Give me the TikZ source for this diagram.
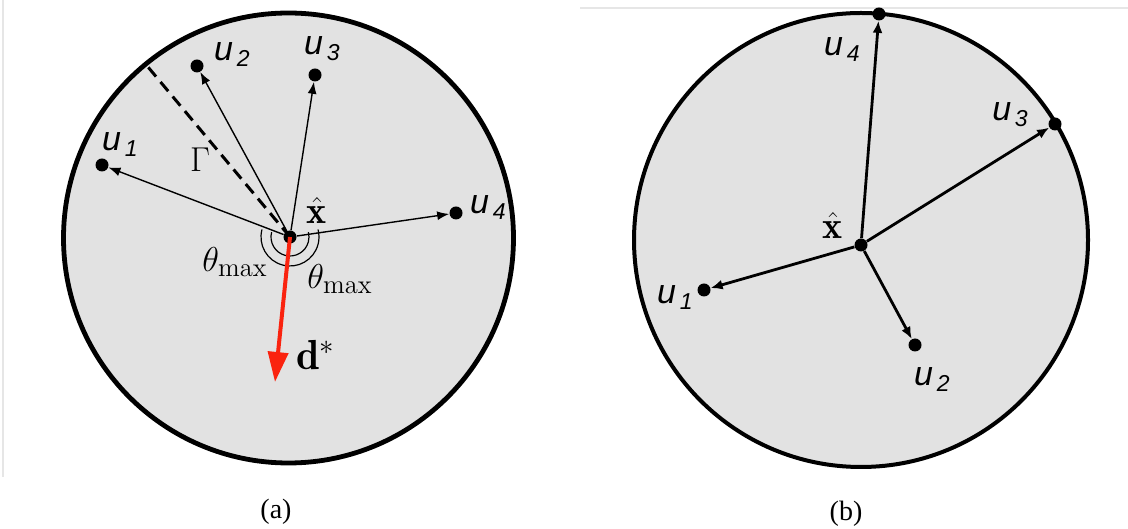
\documentclass[tikz,border=0pt]{standalone}
\usepackage{fontspec}
\setsansfont{Liberation Sans}
\newfontfamily\capfont{Liberation Serif}
\usepackage{amsmath}
\usepackage{tikz}
\usetikzlibrary{arrows.meta}
\definecolor{myred}{RGB}{250,35,15}
\definecolor{myfill}{RGB}{226,226,226}
\definecolor{myframe}{RGB}{230,230,230}
\newcommand{\ulab}[1]{u\raisebox{-3pt}{\fontsize{11.5}{12}\selectfont\,#1}}
\tikzset{
  disc/.style={draw=black, fill=myfill},
  ball/.style={circle, fill=black, inner sep=0pt, minimum size=6.5pt},
  thinarrow/.style={-{Latex[length=6pt,width=4.5pt]}, line width=0.7pt},
  thickarrow/.style={-{Latex[length=6pt,width=5pt]}, line width=1.4pt},
  redarrow/.style={-{Triangle[length=15pt,width=10pt]}, line width=2pt, color=myred},
  gammaline/.style={line width=1.5pt, dash pattern=on 6pt off 3.5pt},
  anglearc/.style={line width=0.6pt},
  ulabel/.style={font=\fontsize{17}{19}\selectfont\sffamily\itshape, inner sep=0pt},
  mlabel/.style={font=\fontsize{19}{21}\selectfont, inner sep=0pt},
  caption/.style={font=\fontsize{14}{16}\selectfont\capfont, inner sep=0pt}
}

\begin{document}
\begin{tikzpicture}[x=0.5pt, y=0.5pt]
  \useasboundingbox (0,0) rectangle (1128,529);
  \draw[myframe, line width=0.6pt] (3,52) -- (3,529);
  \draw[myframe, line width=0.6pt] (580,521) -- (1128,521);

  % (a)
  \draw[disc, line width=2.4pt] (288.5,291) circle[radius=112.5pt];
  \node[ball] (xa) at (290,292) {};
  \foreach \n/\p in {1/{102,364}, 2/{197,463}, 3/{315,454}, 4/{456,316}} {
    \node[ball] (a\n) at (\p) {};
    \draw[thinarrow] (xa) -- (a\n);
  }
  \coordinate (gend) at (148,462);
  \coordinate (dend) at (275,147);
  \draw[gammaline] (xa.center) -- (gend);
  \draw[anglearc] (xa.center) ++(165:9.5pt) arc[start angle=165, end angle=375, radius=9.5pt];
  \draw[anglearc] (xa.center) ++(165:14.5pt) arc[start angle=165, end angle=375, radius=14.5pt];
  \draw[redarrow] (xa.center) -- (dend);
  \node[ulabel] (la1) at (120,384) {\ulab{1}};
  \node[ulabel] (la2) at (232,474) {\ulab{2}};
  \node[ulabel] (la3) at (322,480) {\ulab{3}};
  \node[ulabel] (la4) at (488,321) {\ulab{4}};
  \node[mlabel] (gam) at (200,369) {$\Gamma$};
  \node[mlabel] (xhata) at (317,318) {$\hat{\mathbf{x}}$};
  \node[mlabel] (thl) at (235,267) {$\theta_{\max}$};
  \node[mlabel] (thr) at (340,250) {$\theta_{\max}$};
  \node[mlabel, font=\fontsize{21}{23}\selectfont] (dstar) at (316,174) {$\mathbf{d}^{*}$};
  \node[caption] (capa) at (276,17) {(a)};

  % (b)
  \draw[disc, line width=2pt] (861,289) circle[radius=113.5pt];
  \node[ball] (xb) at (861,284) {};
  \foreach \n/\p in {1/{704,239}, 2/{915,184}, 3/{1055,405}, 4/{879,515}} {
    \node[ball] (b\n) at (\p) {};
    \draw[thickarrow] (xb) -- (b\n);
  }
  \node[ulabel] (lb1) at (675,231) {\ulab{1}};
  \node[ulabel] (lb2) at (932,149) {\ulab{2}};
  \node[ulabel] (lb3) at (1010,414) {\ulab{3}};
  \node[ulabel] (lb4) at (842,479) {\ulab{4}};
  \node[mlabel] (xhatb) at (833,303) {$\hat{\mathbf{x}}$};
  \node[caption] (capb) at (846,15) {(b)};
\end{tikzpicture}
\end{document}
